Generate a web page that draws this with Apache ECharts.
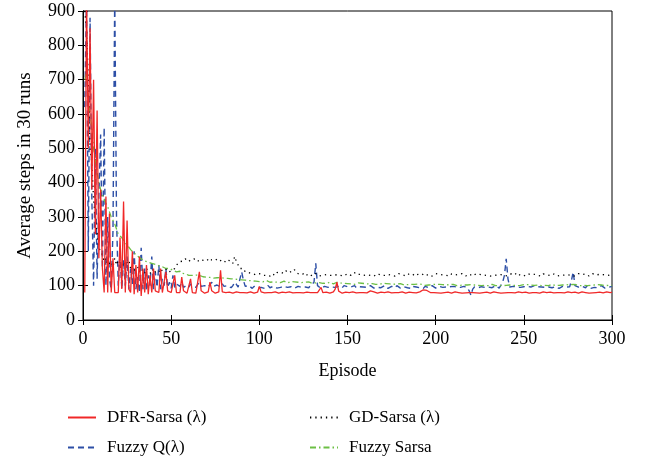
<!DOCTYPE html>
<html>
<head>
<meta charset="utf-8">
<script src="https://cdn.jsdelivr.net/npm/echarts@6/dist/echarts.min.js"></script>
<style>
html, body { margin: 0; padding: 0; background: #fff; }
#chart { width: 653px; height: 458px; }
</style>
</head>
<body>
<div id="chart"></div>
<script>
// episode values (episodes 1..300)
var dfrSarsa = [
80, 950, 500, 850, 380, 700, 250, 610, 180, 380,
150, 80, 360, 80, 310, 80, 180, 80, 85, 80,
240, 90, 345, 80, 290, 90, 80, 200, 75, 160,
80, 185, 70, 150, 80, 160, 75, 130, 80, 150,
85, 80, 80, 150, 80, 78, 140, 85, 80, 80,
82, 130, 80, 78, 80, 125, 85, 80, 78, 80,
120, 80, 80, 78, 82, 140, 85, 80, 78, 80,
82, 110, 85, 80, 78, 80, 82, 145, 82, 78,
80, 79, 81, 80, 78, 80, 82, 79, 80, 78,
80, 81, 79, 80, 82, 80, 78, 80, 81, 98,
82, 80, 79, 78, 80, 81, 80, 79, 82, 80,
78, 80, 81, 79, 80, 78, 82, 80, 79, 81,
80, 78, 80, 82, 79, 80, 81, 78, 80, 79,
80, 82, 80, 78, 95, 80, 79, 81, 80, 78,
80, 82, 90, 110, 84, 80, 78, 80, 81, 79,
80, 78, 82, 80, 79, 81, 80, 78, 80, 82,
79, 80, 85, 90, 82, 80, 78, 80, 81, 79,
80, 78, 82, 80, 79, 81, 80, 78, 80, 79,
82, 80, 78, 80, 81, 79, 80, 82, 79, 80,
82, 85, 88, 90, 86, 82, 80, 78, 80, 81,
79, 80, 78, 82, 80, 79, 81, 80, 78, 80,
82, 79, 80, 81, 78, 80, 79, 82, 80, 78,
80, 81, 79, 80, 78, 82, 80, 79, 81, 80,
78, 80, 82, 79, 80, 81, 78, 80, 79, 82,
80, 78, 80, 81, 79, 80, 82, 78, 80, 79,
81, 80, 78, 82, 80, 79, 80, 81, 78, 80,
82, 79, 80, 78, 81, 80, 79, 82, 80, 78,
80, 81, 79, 80, 82, 78, 80, 79, 81, 80,
78, 80, 82, 79, 80, 81, 78, 80, 79, 82,
80, 78, 81, 80, 79, 80, 82, 78, 80, 81
];
var fuzzyQ = [
620, 950, 200, 880, 360, 100, 500, 120, 360, 540,
150, 560, 100, 300, 120, 90, 260, 950, 300, 100,
200, 90, 175, 100, 185, 90, 150, 105, 200, 90,
125, 80, 210, 90, 150, 85, 130, 100, 185, 90,
140, 95, 160, 90, 120, 100, 150, 95, 110, 92,
130, 95, 105, 100, 98, 110, 95, 100, 102, 96,
105, 98, 100, 95, 103, 110, 98, 95, 100, 104,
96, 100, 110, 98, 95, 102, 100, 96, 105, 98,
95, 100, 98, 94, 100, 110, 104, 96, 120, 140,
115, 98, 95, 100, 96, 92, 98, 100, 94, 96,
95, 98, 92, 96, 100, 94, 95, 98, 100, 93,
96, 95, 92, 98, 100, 95, 94, 97, 96, 93,
95, 98, 100, 95, 92, 96, 98, 94, 100, 95,
110, 165, 100, 95, 92, 96, 98, 94, 95, 97,
96, 100, 95, 92, 98, 96, 94, 100, 95, 97,
93, 96, 98, 100, 94, 95, 97, 92, 96, 98,
95, 94, 100, 96, 93, 97, 95, 98, 94, 96,
100, 95, 92, 96, 98, 95, 94, 100, 96, 93,
95, 97, 100, 94, 96, 92, 98, 95, 96, 100,
94, 96, 92, 98, 95, 94, 97, 100, 95, 93,
96, 98, 94, 95, 100, 96, 93, 97, 95, 98,
94, 96, 100, 95, 92, 98, 96, 94, 85, 72,
90, 96, 98, 94, 95, 97, 100, 95, 93, 96,
98, 94, 95, 100, 96, 93, 97, 110, 130, 178,
120, 96, 95, 98, 94, 96, 100, 95, 93, 97,
95, 98, 94, 96, 92, 100, 95, 97, 94, 96,
98, 95, 93, 96, 100, 94, 95, 97, 96, 92,
95, 98, 94, 96, 100, 97, 115, 140, 100, 95,
96, 93, 98, 95, 94, 100, 96, 92, 97, 95,
98, 94, 96, 100, 95, 93, 97, 95, 96, 98
];
var gdSarsa = [
900, 850, 700, 500, 460, 350, 300, 250, 210, 200,
190, 170, 180, 160, 165, 170, 155, 180, 160, 175,
165, 150, 170, 160, 155, 175, 150, 160, 145, 150,
155, 140, 150, 145, 135, 150, 140, 145, 135, 150,
140, 145, 138, 150, 142, 140, 148, 140, 145, 142,
145, 150, 160, 165, 170, 175, 172, 178, 175, 170,
176, 172, 178, 175, 170, 176, 180, 174, 172, 178,
175, 170, 176, 172, 178, 175, 170, 173, 176, 172,
168, 174, 170, 172, 165, 185, 170, 160, 150, 145,
150, 140, 145, 138, 140, 135, 138, 132, 130, 135,
132, 130, 135, 130, 133, 128, 135, 132, 130, 138,
135, 140, 138, 135, 142, 140, 145, 138, 142, 146,
138, 135, 132, 130, 134, 128, 132, 135, 130, 128,
132, 135, 130, 128, 133, 130, 135, 132, 128, 130,
134, 130, 128, 132, 135, 130, 133, 128, 130, 135,
132, 130, 135, 138, 132, 130, 133, 135, 130, 128,
132, 135, 130, 133, 128, 130, 135, 132, 130, 134,
130, 128, 133, 135, 130, 132, 128, 131, 135, 130,
133, 130, 128, 132, 135, 130, 134, 128, 131, 133,
130, 135, 132, 128, 130, 133, 131, 128, 132, 135,
130, 133, 128, 131, 135, 130, 132, 128, 134, 130,
131, 128, 133, 130, 135, 132, 128, 131, 134, 130,
128, 132, 135, 130, 133, 128, 131, 134, 130, 132,
128, 133, 130, 135, 131, 128, 132, 134, 130, 133,
128, 131, 135, 130, 132, 138, 134, 130, 133, 128,
131, 135, 130, 132, 128, 133, 135, 130, 131, 128,
134, 130, 132, 135, 129, 131, 134, 130, 128, 133,
130, 135, 131, 128, 132, 134, 130, 133, 128, 131,
135, 130, 132, 129, 134, 130, 128, 132, 135, 130,
131, 128, 133, 130, 132, 128, 131, 134, 130, 128
];
var fuzzySarsa = [
700, 720, 650, 600, 560, 500, 470, 430, 400, 380,
365, 350, 340, 330, 315, 300, 290, 280, 265, 250,
245, 240, 232, 225, 220, 212, 205, 200, 195, 190,
186, 182, 178, 175, 172, 170, 168, 166, 165, 163,
162, 160, 158, 157, 155, 153, 150, 148, 150, 146,
145, 142, 140, 138, 142, 136, 134, 135, 132, 130,
133, 130, 128, 131, 127, 130, 128, 126, 129, 125,
127, 124, 126, 122, 125, 123, 121, 124, 120, 122,
119, 121, 118, 120, 117, 119, 116, 118, 115, 117,
114, 116, 113, 115, 112, 114, 116, 113, 115, 112,
114, 111, 113, 115, 112, 110, 113, 111, 114, 110,
112, 109, 111, 113, 110, 108, 111, 112, 109, 111,
108, 110, 112, 109, 107, 110, 108, 111, 109, 107,
110, 108, 106, 109, 111, 107, 109, 106, 108, 110,
107, 105, 108, 110, 106, 108, 105, 107, 109, 106,
108, 105, 107, 104, 106, 108, 105, 107, 104, 106,
108, 105, 103, 106, 108, 104, 106, 103, 105, 107,
104, 106, 103, 105, 107, 104, 102, 105, 103, 106,
104, 102, 105, 103, 106, 104, 102, 104, 103, 105,
102, 104, 103, 101, 104, 102, 105, 103, 101, 104,
102, 104, 101, 103, 105, 102, 100, 103, 101, 104,
102, 100, 103, 101, 104, 102, 100, 102, 101, 103,
100, 102, 104, 101, 103, 100, 102, 101, 103, 100,
102, 104, 101, 100, 103, 101, 102, 100, 103, 101,
100, 102, 104, 101, 103, 100, 102, 101, 100, 103,
101, 103, 100, 102, 104, 101, 100, 102, 103, 100,
102, 101, 103, 100, 102, 104, 101, 100, 103, 101,
100, 102, 101, 103, 100, 102, 101, 104, 100, 102,
101, 100, 103, 101, 102, 100, 103, 101, 100, 102,
101, 103, 100, 102, 101, 100, 102, 101, 103, 100
];
var names = ['DFR-Sarsa (\u03bb)', 'Fuzzy Q(\u03bb)', 'GD-Sarsa (\u03bb)', 'Fuzzy Sarsa'];

function pairs(arr) {
    var out = [];
    for (var i = 0; i < arr.length; i++) {
        out.push([i + 1, arr[i]]);
    }
    return out;
}

var font = 'Liberation Serif';
var myChart = echarts.init(document.getElementById('chart'));
var tickStyle = { inside: true, length: 5, lineStyle: { color: '#000' } };
var legendBase = {
    orient: 'vertical',
    top: 409,
    height: 49,
    padding: 0,
    itemWidth: 28, itemHeight: 14, itemGap: 13,
    itemStyle: { opacity: 0 },
    textStyle: { fontFamily: font, fontSize: 17, color: '#000', padding: [0, 0, 0, 6] }
};
var option = {
    animation: false,
    grid: {
        left: 83, right: 41, top: 11, bottom: 138,
        show: true, borderColor: '#000', borderWidth: 1
    },
    legend: [
        Object.assign({}, legendBase, { data: [names[0], names[1]], left: 67 }),
        Object.assign({}, legendBase, { data: [names[2], names[3]], left: 309 })
    ],
    xAxis: [
        {
            type: 'value', min: 0, max: 300, interval: 50,
            name: 'Episode', nameLocation: 'middle', nameGap: 42,
            nameTextStyle: { fontFamily: font, fontSize: 18, color: '#000' },
            axisLine: { lineStyle: { color: '#000' } },
            axisTick: tickStyle,
            axisLabel: { fontFamily: font, fontSize: 18, color: '#000', margin: 10 },
            splitLine: { show: false }
        },
        {
            type: 'value', min: 0, max: 300, interval: 50, position: 'top',
            axisLine: { lineStyle: { color: '#000' } },
            axisTick: tickStyle,
            axisLabel: { show: false },
            splitLine: { show: false }
        }
    ],
    yAxis: [
        {
            type: 'value', min: 0, max: 900, interval: 100,
            name: 'Average steps in 30 runs', nameLocation: 'middle', nameGap: 48,
            nameTextStyle: { fontFamily: font, fontSize: 19, color: '#000' },
            axisLine: { show: true, lineStyle: { color: '#000' } },
            axisTick: tickStyle,
            axisLabel: { fontFamily: font, fontSize: 18, color: '#000', margin: 8 },
            splitLine: { show: false }
        },
        {
            type: 'value', min: 0, max: 900, interval: 100, position: 'right',
            axisLine: { show: true, lineStyle: { color: '#000' } },
            axisTick: tickStyle,
            axisLabel: { show: false },
            splitLine: { show: false }
        }
    ],
    series: [
        {
            name: names[1], type: 'line', data: pairs(fuzzyQ),
            showSymbol: false, symbol: 'none',
            lineStyle: { color: '#2d4fa6', width: 1.4, type: [6, 4] },
            itemStyle: { color: '#2d4fa6' }
        },
        {
            name: names[3], type: 'line', data: pairs(fuzzySarsa),
            showSymbol: false, symbol: 'none',
            lineStyle: { color: '#6cbf45', width: 1.3, type: [6, 3, 1.5, 3] },
            itemStyle: { color: '#6cbf45' }
        },
        {
            name: names[2], type: 'line', data: pairs(gdSarsa),
            showSymbol: false, symbol: 'none',
            lineStyle: { color: '#000', width: 1.3, type: [1.3, 4] },
            itemStyle: { color: '#000' }
        },
        {
            name: names[0], type: 'line', data: pairs(dfrSarsa),
            showSymbol: false, symbol: 'none',
            lineStyle: { color: '#f02828', width: 1.3 },
            itemStyle: { color: '#f02828' }
        }
    ]
};
myChart.setOption(option);
</script>
</body>
</html>
